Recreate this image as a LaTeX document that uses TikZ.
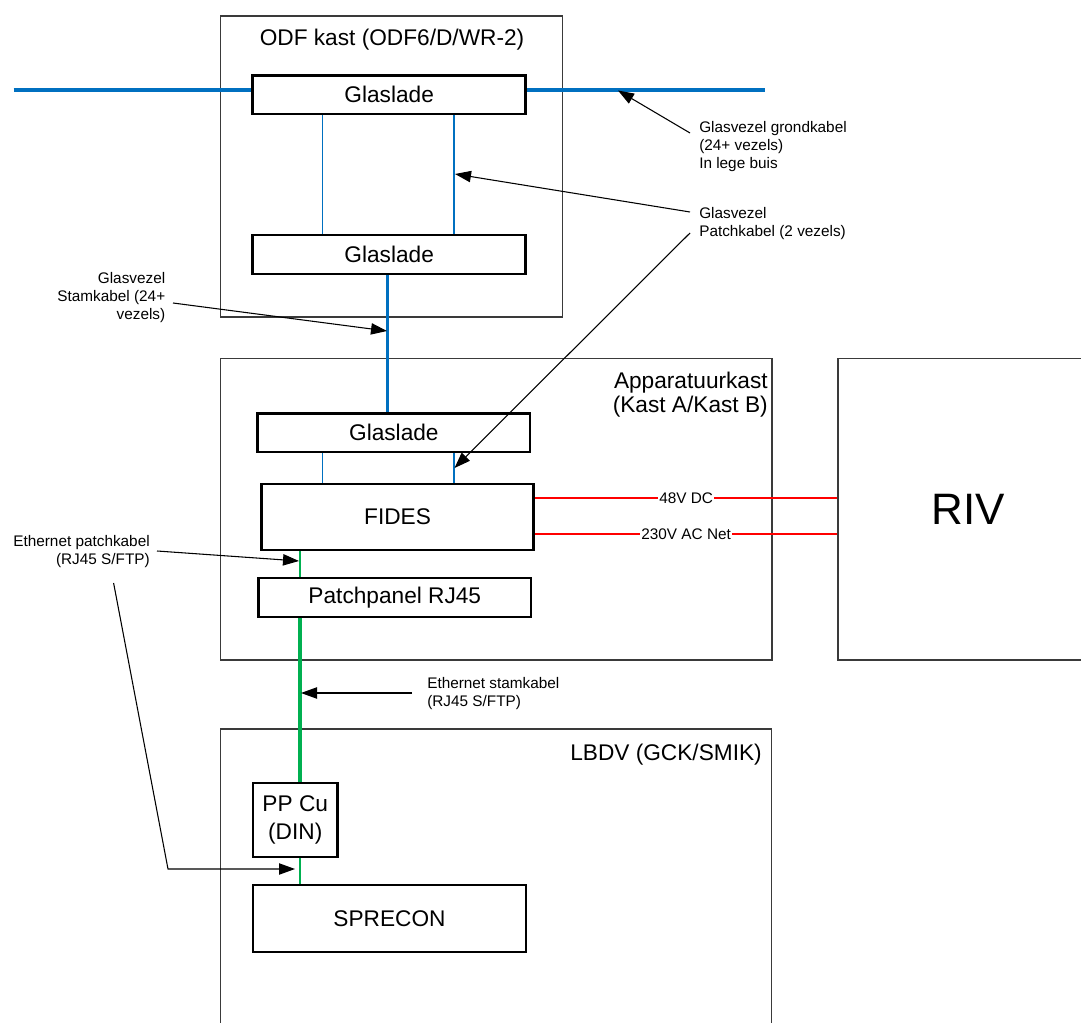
\documentclass[tikz,border=0pt]{standalone}
\usepackage{fontspec}
\setmainfont{Liberation Sans}
\usetikzlibrary{arrows.meta,calc}
\definecolor{fblue}{HTML}{0070C0}
\definecolor{egreen}{HTML}{00B050}
\definecolor{pred}{HTML}{FF0000}
\definecolor{outline}{HTML}{3A3A3A}
\tikzset{
  cabinet/.style={draw=outline,line width=0.8pt,inner sep=0pt,fill=none},
  unitbox/.style={draw=black,line width=2pt,inner sep=0pt,fill=white,font=\fontsize{17}{18.3}\selectfont},
  titletext/.style={inner sep=0pt,font=\fontsize{17}{18.3}\selectfont},
  labeltext/.style={inner sep=0pt,font=\fontsize{11.5}{13.5}\selectfont},
  fibrethick/.style={draw=fblue,line width=2.8pt},
  fibrethin/.style={draw=fblue,line width=1.3pt},
  ethick/.style={draw=egreen,line width=3pt},
  ethin/.style={draw=egreen,line width=1.3pt},
  power/.style={draw=pred,line width=1.2pt},
  powerlabel/.style={fill=white,inner sep=1pt,font=\fontsize{11.5}{13.5}\selectfont},
  pointer/.style={draw=black,line width=0.8pt,-{Triangle[length=12pt,width=8.5pt]}},
}
\begin{document}
\begin{tikzpicture}[x=0.75pt,y=-0.75pt]
\useasboundingbox (0,0) rectangle (1081,1023);
\clip (0,0) rectangle (1081,1023);
\fill[white] (0,0) rectangle (1081,1023);

% cabinets
\node[cabinet,minimum width=257pt,minimum height=225.75pt] (odf) at (391.5,166.5) {};
\node[cabinet,minimum width=413.5pt,minimum height=226pt] (app) at (496.35,509.35) {};
\node[cabinet,minimum width=413pt,minimum height=233.25pt] (lbdv) at (496.1,884.5) {};
\node[cabinet,minimum width=195pt,minimum height=226pt,font=\fontsize{33}{36}\selectfont] (riv) at (968,509.35) {RIV};

% cabinet titles
\node[titletext,anchor=north] (odft) at (392,28.6) {ODF kast (ODF6/D/WR-2)};
\node[titletext,anchor=north east,align=right] (appt) at (768,371.5) {Apparatuurkast\\(Kast A/Kast B)};
\node[titletext,anchor=north east] (lbdvt) at (762,743.6) {LBDV (GCK/SMIK)};

% units
\node[unitbox,minimum width=204.75pt,minimum height=28.7pt] (g1) at (389.2,94.85) {Glaslade};
\node[unitbox,minimum width=204.75pt,minimum height=29.25pt] (g2) at (389.2,254.65) {Glaslade};
\node[unitbox,minimum width=204.2pt,minimum height=28.9pt] (g3) at (393.85,432.75) {Glaslade};
\node[unitbox,minimum width=203.85pt,minimum height=49.5pt] (fides) at (397.6,517) {FIDES};
\node[unitbox,minimum width=204.3pt,minimum height=29.25pt] (pp) at (394.8,597.5) {Patchpanel RJ45};
\node[unitbox,minimum width=63.4pt,minimum height=55.5pt,align=center,font=\fontsize{17}{21.5}\selectfont] (ppcu) at (295.25,820) {PP Cu\\(DIN)};
\node[unitbox,minimum width=204.75pt,minimum height=50.25pt] (spr) at (389.5,918.5) {SPRECON};

% reference coordinates for cable positions
\coordinate (gkl) at (13.6,90);
\coordinate (gkr) at (765,90);
\coordinate (xa) at (322.5,0);
\coordinate (xb) at (454,0);
\coordinate (xs) at (387.5,0);
\coordinate (xe) at (300,0);
\coordinate (ydc) at (0,498);
\coordinate (yac) at (0,534);

% fibre cables
\draw[fibrethick] (gkl) -- (gkl -| g1.west);
\draw[fibrethick] (gkl -| g1.east) -- (gkr);
\draw[fibrethin] (g1.south -| xa) -- (g2.north -| xa);
\draw[fibrethin] (g1.south -| xb) -- (g2.north -| xb);
\draw[fibrethick] (g2.south -| xs) -- (g3.north -| xs);
\draw[fibrethin] (g3.south -| xa) -- (fides.north -| xa);
\draw[fibrethin] (g3.south -| xb) -- (fides.north -| xb);

% ethernet cables
\draw[ethin] (fides.south -| xe) -- (pp.north -| xe);
\draw[ethick] (pp.south -| xe) -- (ppcu.north -| xe);
\draw[ethin] (ppcu.south -| xe) -- (spr.north -| xe);

% power
\draw[power] (fides.east |- ydc) -- node[powerlabel] (dc) {48V DC} (riv.west |- ydc);
\draw[power] (fides.east |- yac) -- node[powerlabel] (ac) {230V AC Net} (riv.west |- yac);

% labels
\node[labeltext,anchor=north west,align=left] (lgk) at (699,121.3) {Glasvezel grondkabel\\(24+ vezels)\\In lege buis};
\node[labeltext,anchor=north west,align=left] (lpk) at (699,207.3) {Glasvezel\\Patchkabel (2 vezels)};
\node[labeltext,anchor=north east,align=right] (lsk) at (165.5,272.3) {Glasvezel\\Stamkabel (24+\\vezels)};
\node[labeltext,anchor=north east,align=right] (lep) at (150,535) {Ethernet patchkabel\\(RJ45 S/FTP)};
\node[labeltext,anchor=north west,align=left] (les) at (427,677.3) {Ethernet stamkabel\\(RJ45 S/FTP)};

% pointer coordinates
\coordinate (tgk) at (690,133);   \coordinate (hgk) at (618,90.5);
\coordinate (tpk1) at (690,212);  \coordinate (hpk1) at (455,174);
\coordinate (tpk2) at (690,233);  \coordinate (hpk2) at (454.5,468);
\coordinate (tsk) at (173,303);   \coordinate (hsk) at (387,331);
\coordinate (tep1) at (157,551);  \coordinate (hep1) at (299,561);
\coordinate (tep2) at (113.6,583); \coordinate (bep2) at (168,869); \coordinate (hep2) at (295,869);
\coordinate (tes) at (412,693);   \coordinate (hes) at (301,693);

\draw[pointer] (tgk) -- (hgk);
\draw[pointer] (tpk1) -- (hpk1);
\draw[pointer] (tpk2) -- (hpk2);
\draw[pointer] (tsk) -- (hsk);
\draw[pointer] (tep1) -- (hep1);
\draw[pointer] (tep2) -- (bep2) -- (hep2);
\draw[pointer] (tes) -- (hes);
\end{tikzpicture}
\end{document}
